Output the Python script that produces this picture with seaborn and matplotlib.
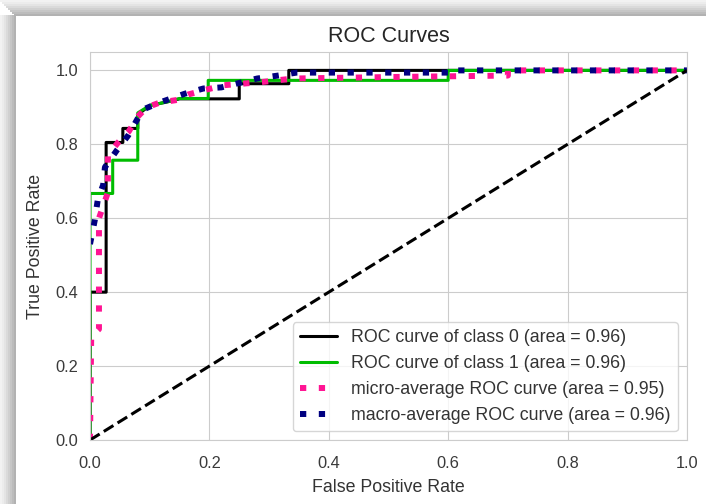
import matplotlib
matplotlib.use('Agg')
import matplotlib.pyplot as plt
from matplotlib.patches import Rectangle
import seaborn as sns
import numpy as np

# ROC points
class0_fpr = [0, 0, 0.027, 0.027, 0.055, 0.055, 0.08, 0.08, 0.1, 0.13, 0.15, 0.25, 0.25, 0.333, 0.333, 1.0]
class0_tpr = [0, 0.4, 0.4, 0.805, 0.805, 0.843, 0.843, 0.88, 0.905, 0.915, 0.923, 0.923, 0.964, 0.964, 1.0, 1.0]

class1_fpr = [0, 0, 0.038, 0.038, 0.08, 0.08, 0.1, 0.13, 0.15, 0.198, 0.198, 0.6, 0.6, 1.0]
class1_tpr = [0, 0.667, 0.667, 0.757, 0.757, 0.885, 0.905, 0.915, 0.924, 0.924, 0.973, 0.973, 1.0, 1.0]

micro_fpr = [0, 0.002, 0.015, 0.015, 0.03, 0.03, 0.047, 0.065, 0.08, 0.095, 0.117, 0.146,
             0.165, 0.195, 0.225, 0.255, 0.285, 0.34, 0.5, 0.7, 0.7, 1.0]
micro_tpr = [0, 0.28, 0.3, 0.6, 0.67, 0.77, 0.805, 0.835, 0.875, 0.9, 0.913, 0.92,
             0.935, 0.948, 0.96, 0.964, 0.968, 0.978, 0.982, 0.986, 1.0, 1.0]

macro_fpr = [0, 0.008, 0.013, 0.022, 0.025, 0.045, 0.064, 0.08, 0.09, 0.12, 0.159, 0.19,
             0.22, 0.25, 0.28, 0.315, 0.346, 0.6, 0.6, 1.0]
macro_tpr = [0.53, 0.595, 0.65, 0.69, 0.738, 0.784, 0.824, 0.87, 0.895, 0.915, 0.937, 0.951,
             0.954, 0.966, 0.978, 0.986, 0.994, 0.994, 1.0, 1.0]

labels = ['ROC curve of class 0 (area = 0.96)',
          'ROC curve of class 1 (area = 0.96)',
          'micro-average ROC curve (area = 0.95)',
          'macro-average ROC curve (area = 0.96)']

sns.set_style('whitegrid')
plt.rcParams['font.family'] = ['Liberation Sans', 'DejaVu Sans']

fig = plt.figure(figsize=(7.06, 5.04), dpi=100)
ax = fig.add_axes([0.1275, 0.127, 0.8455, 0.77])

cmap = plt.cm.nipy_spectral
sns.lineplot(x=class0_fpr, y=class0_tpr, sort=False, estimator=None, ax=ax,
             color=cmap(0.0), lw=2.2, label=labels[0])
sns.lineplot(x=class1_fpr, y=class1_tpr, sort=False, estimator=None, ax=ax,
             color=cmap(0.5), lw=2.2, label=labels[1])
sns.lineplot(x=micro_fpr, y=micro_tpr, sort=False, estimator=None, ax=ax,
             color='deeppink', lw=4.3, linestyle=(0, (1.05, 2.1)), label=labels[2])
sns.lineplot(x=macro_fpr, y=macro_tpr, sort=False, estimator=None, ax=ax,
             color='navy', lw=4.3, linestyle=(0, (1.05, 2.1)), label=labels[3])
ax.plot([0, 1], [0, 1], 'k--', lw=2.2)

ax.set_xlim([0.0, 1.0])
ax.set_ylim([0.0, 1.05])
ax.set_xticks(np.arange(0, 1.01, 0.2))
ax.set_yticks(np.arange(0, 1.01, 0.2))
ax.set_title('ROC Curves', fontsize=15.5, color='#262626', pad=7)
ax.set_xlabel('False Positive Rate', fontsize=12.8, color='#333333', labelpad=6)
ax.set_ylabel('True Positive Rate', fontsize=12.8, color='#333333', labelpad=8)
ax.tick_params(labelsize=11.8, colors='#3a3a3a', pad=5)
ax.tick_params(axis='x', pad=8)
ax.legend(loc='lower right', fontsize=12.8, handlelength=2.1, frameon=True,
          labelcolor='#333333')

# screenshot shadow frame on the left / top edges
W, H = 706, 504
shades = ['#f2f2f2', '#ececec', '#e4e4e4', '#dadada', '#d0d0d0', '#c6c6c6', '#bcbcbc', '#b2b2b2']
for i, c in enumerate(shades):
    fig.add_artist(Rectangle((i * 2 / W, 0), 2 / W, 1 - 15 / H, transform=fig.transFigure,
                             color=c, lw=0, zorder=10))
    fig.add_artist(Rectangle((i * 2 / W, 1 - (i * 2 + 2) / H), 1 - i * 2 / W, 2 / H,
                             transform=fig.transFigure, color=c, lw=0, zorder=10))

fig.savefig('out.png', dpi=100)
